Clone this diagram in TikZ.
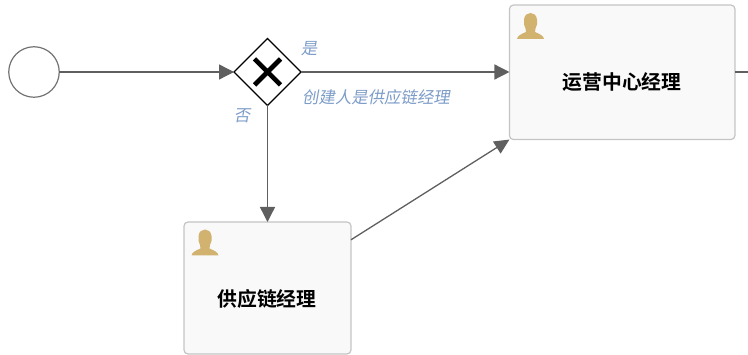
\documentclass[tikz,border=0pt]{standalone}
\usepackage{fontspec}
\newfontfamily\cjk{Noto Sans CJK SC}
\newfontfamily\cjkbold{Noto Sans CJK SC Bold}
\newfontfamily\cjkslant[FakeSlant=0.18]{Noto Sans CJK SC}
\usetikzlibrary{arrows.meta,shapes.geometric}
\definecolor{flowgray}{HTML}{5F5F5F}
\definecolor{taskedge}{HTML}{C4C4C4}
\definecolor{taskfill}{HTML}{F9F9F9}
\definecolor{labelblue}{HTML}{7C9CC8}
\definecolor{usergold}{HTML}{D1B26F}
\tikzset{
  every node/.style={outer sep=0pt,inner sep=0pt},
  startevent/.style={circle,draw=black!55,line width=1.2pt,fill=white,minimum size=50.5pt},
  xorgate/.style={diamond,aspect=1,draw=black,line width=1.2pt,fill=white,minimum width=67pt,minimum height=67pt},
  taskbox/.style={rectangle,rounded corners=4pt,draw=taskedge,line width=1.2pt,fill=taskfill},
  tasktext/.style={font=\cjkbold\fontsize{19.8}{22}\selectfont,text=black},
  flowlabel/.style={font=\cjkslant\fontsize{16.4}{18}\selectfont,text=labelblue},
  flow/.style={draw=flowgray,line width=1.4pt,-{Triangle[length=15pt,width=15pt,fill=flowgray]}},
  plainflow/.style={draw=flowgray,line width=1.4pt},
  slantflow/.style={draw=flowgray,line width=1.3pt,-{Triangle[length=15pt,width=14pt,fill=flowgray]}}
}
\newcommand{\usericon}[2]{%
  \fill[usergold,shift={(#1,#2)}]
    (-13.5,13) .. controls (-13,9.5) and (-9,8) .. (-4.5,6)
    .. controls (-4.5,4.5) and (-4.5,3.5) .. (-5,2.5)
    .. controls (-6.5,0) and (-7,-3) .. (-6.5,-6.5)
    .. controls (-6,-11) and (-3,-13) .. (0,-13)
    .. controls (3,-13) and (6,-11) .. (6.5,-6.5)
    .. controls (7,-3) and (6.5,0) .. (5,2.5)
    .. controls (4.5,3.5) and (4.5,4.5) .. (4.5,6)
    .. controls (9,8) and (13,9.5) .. (13.5,13) -- cycle;}
\begin{document}
\begin{tikzpicture}[x=1pt,y=-1pt]
\useasboundingbox (0,0) rectangle (748,355);
\node[startevent] (start) at (34,72) {};
\node[xorgate] (gw) at (267.5,72) {};
\node[taskbox,minimum width=225.5pt,minimum height=134.5pt] (t1) at (622.2,72.3) {};
\node[taskbox,minimum width=167pt,minimum height=132pt] (t2) at (267.5,288) {};
\coordinate (exit) at (748,72);
% gateway cross
\draw[black,line width=4.6pt] (254.5,59) -- (280.5,85) (280.5,59) -- (254.5,85);
% connectors
\draw[flow] (start.east) -- (gw.west);
\draw[flow] (gw.east) -- (gw.east -| t1.west);
\draw[flow] (gw.south) -- (t2.north);
\draw[slantflow] (t2.30.7) -- (t1.south west);
\draw[plainflow] (exit -| t1.east) -- (exit);
% icons
\usericon{530.5}{26}
\usericon{205}{242.5}
% texts
\node[tasktext] (t1label) at (622,82) {运营中心经理};
\node[tasktext] (t2label) at (267,298.5) {供应链经理};
\node[flowlabel] (yes) at (309,49) {是};
\node[flowlabel] (no) at (242,116) {否};
\node[flowlabel] (cond) at (376,97) {创建人是供应链经理};
\end{tikzpicture}
\end{document}
